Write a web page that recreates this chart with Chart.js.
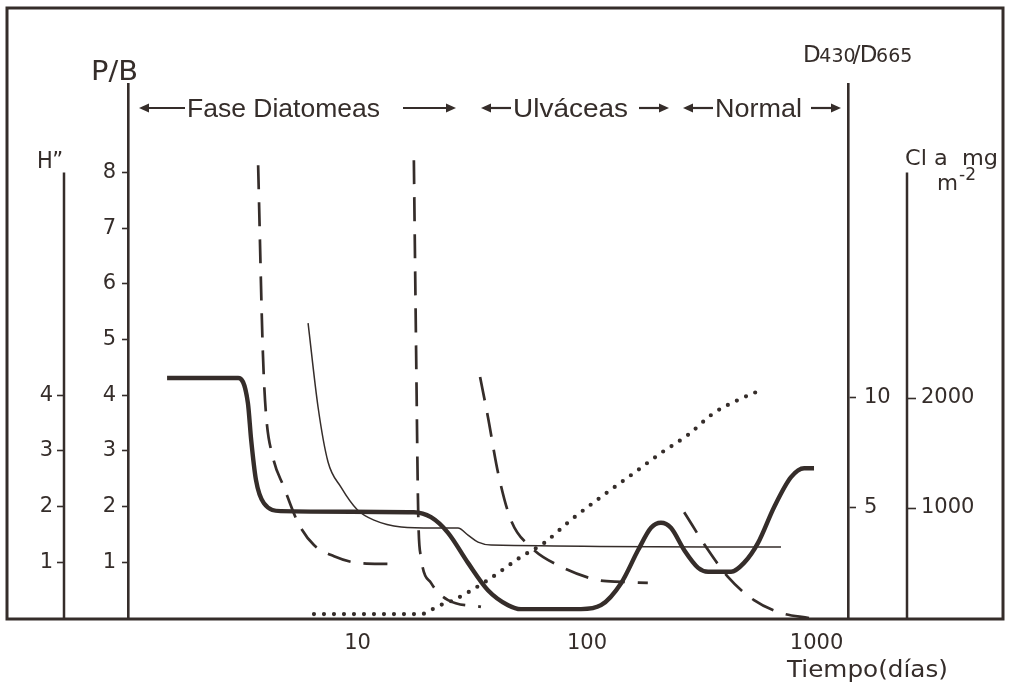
<!DOCTYPE html>
<html lang="es">
<head>
<meta charset="UTF-8">
<title>Sucesion</title>
<script src="https://cdn.jsdelivr.net/npm/chart.js@4.4.1/dist/chart.umd.min.js"></script>
<style>
  html, body { margin: 0; padding: 0; background: #fff; }
</style>
</head>
<body>
<canvas id="chart" width="1010" height="686"></canvas>

<script>
// valores (x = dias, escala log)
const thickDays = [1.48, 3.02, 3.33, 3.44, 3.61, 3.91, 4.64, 17.6, 20.9, 24.8, 30.3, 37.0, 45.3, 51.5, 94.1, 115, 141, 167, 190, 210, 232, 265, 305, 337, 424, 483, 556, 653, 774, 883, 975];
const thickH = [4.31, 4.31, 3.86, 3.20, 2.48, 2.06, 1.92, 1.90, 1.81, 1.53, 0.99, 0.50, 0.23, 0.16, 0.16, 0.23, 0.63, 1.22, 1.62, 1.71, 1.62, 1.22, 0.90, 0.83, 0.83, 0.99, 1.35, 1.99, 2.53, 2.69, 2.69];

const thinDays = [6.09, 6.73, 7.44, 8.47, 10.0, 11.8, 15.5, 21.5, 27.4, 30.3, 33.5, 38.2, 700];
const thinD = [13.4, 9.59, 7.09, 5.95, 4.91, 4.45, 4.14, 4.09, 4.09, 3.77, 3.45, 3.32, 3.23];

const dash1Days = [3.69, 3.87, 3.99, 4.28, 4.78, 5.51, 6.46, 7.90, 10.0, 13.6];
const dash1PB = [8.13, 4.76, 3.68, 2.89, 2.35, 1.71, 1.31, 1.11, 0.99, 0.97];

const dash2Days = [17.6, 18.0, 18.4, 18.9, 20.9, 24.8, 34.5];
const dash2PB = [8.22, 4.81, 1.81, 1.10, 0.63, 0.32, 0.20];

const dash3Days = [34.2, 37.0, 41.0, 46.6, 57.0, 77.1, 112, 141, 184];
const dash3PB = [4.33, 3.61, 2.60, 1.76, 1.27, 0.92, 0.68, 0.65, 0.63];

const dash4Days = [265, 337, 411, 534, 700, 927];
const dash4PB = [1.90, 1.22, 0.74, 0.32, 0.09, 0.0];

const dotDays = [6.46, 18.4, 19.9, 22.0, 26.3, 37.0, 51.5, 65.0, 85.1, 115, 160, 210, 275, 357, 455, 573];
const dotCla = [36, 36, 45, 100, 164, 345, 555, 682, 891, 1100, 1318, 1500, 1664, 1864, 1982, 2073];

const xTicks = [10, 100, 1000];
const pbTicks = [1, 2, 3, 4, 5, 6, 7, 8];
const hTicks = [1, 2, 3, 4];
const dTicks = [5, 10];
const claTicks = [1000, 2000];

const hAxisTop = 8.0;
const claAxisTop = 4050;

const ink = '#352d2a';
const numFont = 'DejaVu Sans';
const txtFont = 'Liberation Sans';

function pts(xs, ys) {
    return xs.map((x, i) => ({x: x, y: ys[i]}));
}
function keep(list) {
    return function (scale) { scale.ticks = list.map(v => ({value: v})); };
}
function line(ctx, x1, y1, x2, y2) {
    ctx.beginPath(); ctx.moveTo(x1, y1); ctx.lineTo(x2, y2); ctx.stroke();
}
// texto ajustado a un ancho dado
function txt(ctx, s, x, y, w, size, family) {
    ctx.font = size + 'px "' + family + '"';
    const m = ctx.measureText(s).width;
    ctx.save();
    ctx.translate(x, y);
    ctx.scale(w / m, 1);
    ctx.textAlign = 'left';
    ctx.textBaseline = 'alphabetic';
    ctx.fillText(s, 0, 0);
    ctx.restore();
}
function arrow(ctx, x1, x2, y) {
    const d = x2 > x1 ? 1 : -1;
    ctx.lineWidth = 2.2;
    line(ctx, x1, y, x2 - d * 4, y);
    ctx.beginPath();
    ctx.moveTo(x2, y);
    ctx.lineTo(x2 - d * 10, y - 4.5);
    ctx.lineTo(x2 - d * 10, y + 4.5);
    ctx.closePath();
    ctx.fill();
}

const decor = {
    id: 'decor',
    beforeDraw(chart) {
        const ctx = chart.ctx;
        ctx.save();
        ctx.fillStyle = '#fff';
        ctx.fillRect(0, 0, chart.width, chart.height);
        ctx.restore();
    },
    afterDraw(chart) {
        const ctx = chart.ctx;
        const a = chart.chartArea;
        const s = chart.scales;
        ctx.save();
        ctx.strokeStyle = ink;
        ctx.fillStyle = ink;

        // marco
        ctx.lineWidth = 3;
        ctx.strokeRect(s.yH.left, 8, s.yCla.right - s.yH.left, a.bottom + 1 - 8);

        // ejes cortos H" y Cla
        ctx.lineWidth = 2.5;
        line(ctx, s.yH.right, s.yH.getPixelForValue(0), s.yH.right, s.yH.getPixelForValue(hAxisTop));
        line(ctx, s.yCla.left, s.yCla.getPixelForValue(0), s.yCla.left, s.yCla.getPixelForValue(claAxisTop));

        // titulos de ejes
        txt(ctx, 'P/B', 91, 80, 47, 26, numFont);
        txt(ctx, 'H\u201D', 37, 168, 26, 23, numFont);

        let x = 803;
        const parts = [['D', 23], ['430', 19], ['/', 23], ['D', 23], ['665', 19]];
        parts.forEach(p => {
            ctx.font = p[1] + 'px "' + numFont + '"';
            ctx.fillText(p[0], x, 62);
            x += ctx.measureText(p[0]).width * 0.92;
        });

        txt(ctx, 'Cl a  mg', 905, 165, 93, 22, numFont);
        txt(ctx, 'm', 937, 190, 21, 22, numFont);
        txt(ctx, '-2', 959, 180, 17, 17, numFont);

        // fases
        txt(ctx, 'Fase Diatomeas', 187, 117, 193, 26, txtFont);
        txt(ctx, 'Ulv\u00e1ceas', 513, 117, 115, 26, txtFont);
        txt(ctx, 'Normal', 715, 117, 87, 26, txtFont);
        arrow(ctx, 185, 139, 108);
        arrow(ctx, 403, 456, 108);
        arrow(ctx, 511, 481, 108);
        arrow(ctx, 639, 669, 108);
        arrow(ctx, 713, 683, 108);
        arrow(ctx, 811, 841, 108);

        // titulo eje x
        txt(ctx, 'Tiempo(d\u00edas)', 787, 677, 161, 23, numFont);
        ctx.restore();
    }
};

const tickFont = {family: numFont, size: 21};

new Chart(document.getElementById('chart'), {
    type: 'line',
    data: {
        datasets: [
            {data: pts(thickDays, thickH), yAxisID: 'yH', borderColor: ink, borderWidth: 4.4},
            {data: pts(thinDays, thinD), yAxisID: 'yD', borderColor: ink, borderWidth: 1.5},
            {data: pts(dash1Days, dash1PB), yAxisID: 'yPB', borderColor: ink, borderWidth: 2.7, borderDash: [24, 13]},
            {data: pts(dash2Days, dash2PB), yAxisID: 'yPB', borderColor: ink, borderWidth: 2.7, borderDash: [24, 13]},
            {data: pts(dash3Days, dash3PB), yAxisID: 'yPB', borderColor: ink, borderWidth: 2.7, borderDash: [24, 13]},
            {data: pts(dash4Days, dash4PB), yAxisID: 'yPB', borderColor: ink, borderWidth: 2.7, borderDash: [24, 13]},
            {data: pts(dotDays, dotCla), yAxisID: 'yCla', borderColor: ink, borderWidth: 4.2, borderDash: [0, 10], borderCapStyle: 'round'}
        ]
    },
    options: {
        responsive: false,
        animation: false,
        devicePixelRatio: 1,
        layout: {padding: {top: 84, left: 7, right: 7, bottom: 0}},
        elements: {
            point: {radius: 0},
            line: {cubicInterpolationMode: 'monotone', fill: false}
        },
        plugins: {legend: {display: false}, tooltip: {enabled: false}, title: {display: false}},
        scales: {
            x: {
                type: 'logarithmic', position: 'bottom', min: 1, max: 1371,
                afterBuildTicks: keep(xTicks),
                afterFit: s => { s.height = 68; },
                grid: {display: false, drawTicks: false},
                border: {display: false},
                ticks: {autoSkip: false, maxRotation: 0, color: ink, padding: 13,
                    font: {family: numFont, size: 21}, callback: v => String(v)}
            },
            yPB: {
                type: 'linear', position: 'left', weight: 0, min: 0, max: 9.59,
                afterBuildTicks: keep(pbTicks),
                afterFit: s => { s.width = 64; },
                grid: {drawOnChartArea: false, tickLength: 6, tickWidth: 1.6, tickColor: ink, color: ink},
                border: {display: true, color: ink, width: 2.6},
                ticks: {color: ink, font: tickFont, padding: 6, callback: v => String(v)}
            },
            yH: {
                type: 'linear', position: 'left', weight: 1, min: 0, max: 9.59,
                afterBuildTicks: keep(hTicks),
                afterFit: s => { s.width = 57; },
                grid: {drawOnChartArea: false, tickLength: 7, tickWidth: 1.6, tickColor: ink, color: ink},
                border: {display: false},
                ticks: {color: ink, font: tickFont, padding: 4, callback: v => String(v)}
            },
            yD: {
                type: 'linear', position: 'right', weight: 0, min: 0, max: 24.27,
                afterBuildTicks: keep(dTicks),
                afterFit: s => { s.width = 59; },
                grid: {drawOnChartArea: false, tickLength: 8, tickWidth: 1.6, tickColor: ink, color: ink},
                border: {display: true, color: ink, width: 2.6},
                ticks: {color: ink, font: tickFont, padding: 8, callback: v => String(v)}
            },
            yCla: {
                type: 'linear', position: 'right', weight: 1, min: 0, max: 4855,
                afterBuildTicks: keep(claTicks),
                afterFit: s => { s.width = 96; },
                grid: {drawOnChartArea: false, tickLength: 9, tickWidth: 1.6, tickColor: ink, color: ink},
                border: {display: false},
                ticks: {color: ink, font: tickFont, padding: 5, callback: v => String(v)}
            }
        }
    },
    plugins: [decor]
});
</script>
</body>
</html>
